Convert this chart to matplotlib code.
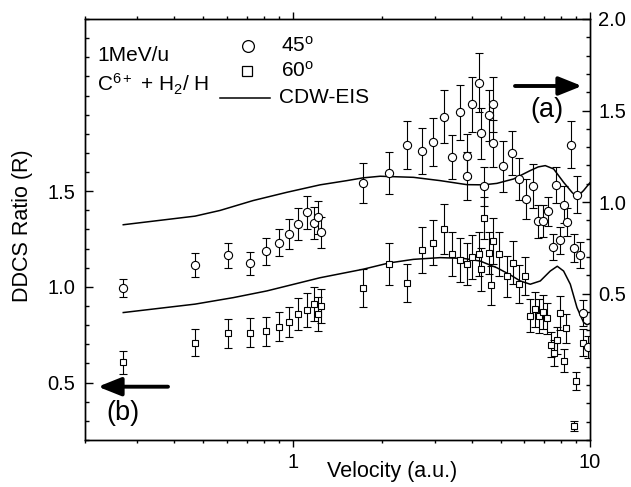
import matplotlib
matplotlib.use("Agg")
import matplotlib.pyplot as plt
from matplotlib.ticker import MultipleLocator, NullFormatter
from matplotlib.lines import Line2D

plt.rcParams['font.family'] = ['Liberation Sans', 'DejaVu Sans']
plt.rcParams['mathtext.fontset'] = 'custom'
plt.rcParams['mathtext.rm'] = 'Liberation Sans'
plt.rcParams['mathtext.it'] = 'Liberation Sans:italic'
plt.rcParams['mathtext.bf'] = 'Liberation Sans:bold'

# ---- data: 45 degree (right axis) ----
v45 = [0.269, 0.469, 0.607, 0.718, 0.811, 0.899, 0.974, 1.044, 1.120, 1.182, 1.214, 1.242,
       1.721, 2.105, 2.426, 2.718, 2.975, 3.215, 3.444, 3.650, 3.853, 3.853, 4.024, 4.229,
       4.311, 4.406, 4.563, 4.714, 4.714, 5.094, 5.455, 5.781, 6.101, 6.418, 6.671, 6.946,
       7.209, 7.506, 7.700, 7.955, 8.161, 8.385, 8.650, 8.855, 9.028, 9.240, 9.493, 9.831]
r45 = [0.530, 0.654, 0.708, 0.665, 0.730, 0.778, 0.823, 0.881, 0.943, 0.884, 0.917, 0.834,
       1.105, 1.158, 1.313, 1.280, 1.328, 1.466, 1.247, 1.490, 1.251, 1.141, 1.535, 1.653,
       1.375, 1.086, 1.474, 1.535, 1.320, 1.195, 1.269, 1.126, 1.015, 1.089, 0.896, 0.896,
       0.950, 0.754, 1.094, 0.791, 0.986, 0.892, 1.314, 0.749, 1.041, 0.712, 0.394, 0.209]
e45 = [0.05, 0.065, 0.07, 0.064, 0.073, 0.075, 0.082, 0.087, 0.092, 0.087, 0.089, 0.083,
       0.109, 0.115, 0.13, 0.127, 0.13, 0.145, 0.12, 0.15, 0.12, 0.13, 0.15, 0.16,
       0.14, 0.105, 0.14, 0.15, 0.13, 0.14, 0.12, 0.116, 0.11, 0.12, 0.09, 0.087,
       0.08, 0.073, 0.10, 0.075, 0.1, 0.077, 0.13, 0.077, 0.1, 0.07, 0.07, 0.06]

# ---- data: 60 degree (left axis) ----
v60 = [0.269, 0.469, 0.607, 0.718, 0.811, 0.899, 0.974, 1.044, 1.120, 1.182, 1.214, 1.242,
       1.721, 2.105, 2.426, 2.718, 2.975, 3.215, 3.444, 3.650, 3.853, 4.024, 4.229, 4.311,
       4.406, 4.563, 4.641, 4.714, 4.950, 5.255, 5.519, 5.781, 6.031, 6.260, 6.508, 6.734,
       6.930, 7.143, 7.391, 7.594, 7.760, 7.955, 8.150, 8.300, 8.855, 8.980, 9.500]
r60 = [0.606, 0.708, 0.757, 0.760, 0.769, 0.793, 0.816, 0.858, 0.879, 0.913, 0.858, 0.901,
       0.996, 1.120, 1.022, 1.195, 1.232, 1.301, 1.170, 1.142, 1.119, 1.156, 1.170, 1.092,
       1.359, 1.176, 1.008, 1.238, 1.170, 1.056, 1.127, 1.017, 1.056, 0.849, 0.883, 0.848,
       0.869, 0.836, 0.697, 0.654, 0.721, 0.864, 0.615, 0.783, 0.275, 0.509, 0.708]
e60 = [0.059, 0.071, 0.076, 0.075, 0.076, 0.078, 0.08, 0.084, 0.089, 0.089, 0.087, 0.089,
       0.099, 0.11, 0.10, 0.12, 0.12, 0.13, 0.115, 0.115, 0.11, 0.117, 0.115, 0.113,
       0.11, 0.11, 0.10, 0.12, 0.115, 0.107, 0.113, 0.10, 0.10, 0.087, 0.09, 0.087,
       0.087, 0.08, 0.065, 0.068, 0.07, 0.088, 0.06, 0.078, 0.026, 0.048, 0.07]

# ---- CDW-EIS theory curves ----
v_th45 = [0.269, 0.469, 0.569, 0.735, 0.954, 1.236, 1.520, 1.721, 1.968, 2.547, 3.133, 3.853,
          4.384, 4.862, 5.531, 6.295, 6.700, 7.071, 7.543, 8.150, 8.699, 9.040, 9.517, 10.0]
th45 = [0.876, 0.923, 0.954, 1.008, 1.053, 1.094, 1.117, 1.132, 1.141, 1.135, 1.117, 1.095,
        1.094, 1.102, 1.126, 1.172, 1.192, 1.199, 1.181, 1.108, 1.053, 1.027, 1.063, 1.106]
v_th60 = [0.269, 0.469, 0.631, 0.818, 1.058, 1.236, 1.721, 2.105, 2.547, 3.133, 3.753, 4.271,
          4.862, 5.391, 5.826, 6.295, 6.803, 7.351, 7.760, 8.150, 8.585, 9.040, 9.517, 9.770, 10.0]
th60 = [0.866, 0.910, 0.944, 0.979, 1.022, 1.048, 1.092, 1.125, 1.144, 1.153, 1.149, 1.135,
        1.100, 1.063, 1.031, 1.014, 1.031, 1.083, 1.108, 1.083, 1.014, 0.892, 0.814, 0.802, 0.809]

W, H = 631, 487
fig = plt.figure(figsize=(W / 100, H / 100), dpi=100)
L, R, T, B = 85, 590, 19, 440
ax1 = fig.add_axes([L / W, 1 - B / H, (R - L) / W, (B - T) / H])
ax1.set_xscale('log')
ax1.set_xlim(0.2, 10)
ax1.set_ylim(0.2, 2.4)
ax2 = ax1.twinx()
ax2.set_ylim(-0.3, 2.0)

ekw = dict(mfc='white', mec='black', ecolor='black', elinewidth=0.8,
           capsize=2.7, capthick=0.8, mew=0.8, linestyle='none')
ax1.errorbar(v60, r60, yerr=e60, marker='s', ms=5.0, **ekw)
ax1.plot(v_th60, th60, color='black', lw=1.1)
ax2.errorbar(v45, r45, yerr=e45, marker='o', ms=5.9, **ekw)
ax2.plot(v_th45, th45, color='black', lw=1.1)

for a in (ax1, ax2):
    for s in a.spines.values():
        s.set_linewidth(1.0)

ax1.set_xticks([1, 10], ['1', '10'])
ax1.set_xticks([0.2, 0.3, 0.4, 0.5, 0.6, 0.7, 0.8, 0.9, 2, 3, 4, 5, 6, 7, 8, 9], minor=True)
ax1.xaxis.set_minor_formatter(NullFormatter())
ax1.tick_params(axis='x', which='both', direction='out', top=True, bottom=True,
                labelsize=14.5, pad=4.5, width=1.0)
ax1.tick_params(axis='x', which='major', length=4.8)
ax1.tick_params(axis='x', which='minor', length=2.4)

ax1.set_yticks([0.5, 1.0, 1.5], ['0.5', '1.0', '1.5'])
ax1.yaxis.set_minor_locator(MultipleLocator(0.1))
ax1.tick_params(axis='y', which='both', direction='in', left=True, right=False,
                labelsize=14.5, pad=7, width=1.0)
ax1.tick_params(axis='y', which='major', length=5.8)
ax1.tick_params(axis='y', which='minor', length=2.9)

ax2.set_yticks([0.5, 1.0, 1.5, 2.0], ['0.5', '1.0', '1.5', '2.0'])
ax2.yaxis.set_minor_locator(MultipleLocator(0.1))
ax2.tick_params(axis='y', which='both', direction='in', right=True, left=False,
                labelsize=14.5, pad=5.8, width=1.0)
ax2.tick_params(axis='y', which='major', length=5.8)
ax2.tick_params(axis='y', which='minor', length=2.9)


def fx(px):
    return px / W


def fy(py):
    return 1 - py / H


FS = 15
fig.text(fx(392.5), fy(477), 'Velocity (a.u.)', fontsize=15.5, ha='center', va='baseline')
fig.text(fx(23), fy(226), 'DDCS Ratio (R)', fontsize=15.5, ha='center', va='center',
         rotation=90)

fig.text(fx(97), fy(55.5), '1MeV/u', fontsize=FS, ha='left', va='center')
fig.text(fx(97), fy(91.5), r'C$^{\mathrm{6+}}$ + H$_{\mathrm{2}}$/ H', fontsize=FS,
         ha='left', va='baseline')

# legend
fig.add_artist(Line2D([fx(248)], [fy(45.7)], marker='o', ms=8.5, mfc='white', mec='black',
                      mew=0.9, transform=fig.transFigure))
fig.add_artist(Line2D([fx(247)], [fy(71)], marker='s', ms=7.8, mfc='white', mec='black',
                      mew=0.9, transform=fig.transFigure))
fig.add_artist(Line2D([fx(220), fx(270)], [fy(97.7), fy(97.7)], color='black', lw=1.1,
                      transform=fig.transFigure))
fig.text(fx(281), fy(45.7), r'45$^{\mathrm{o}}$', fontsize=FS, ha='left', va='center')
fig.text(fx(281), fy(71), r'60$^{\mathrm{o}}$', fontsize=FS, ha='left', va='center')
fig.text(fx(279), fy(97.7), 'CDW-EIS', fontsize=FS, ha='left', va='center')

fig.text(fx(546.5), fy(110), '(a)', fontsize=19.5, ha='center', va='center')
fig.text(fx(122.5), fy(413), '(b)', fontsize=19.5, ha='center', va='center')

akw = dict(arrowstyle='-|>,head_length=1.0,head_width=0.4', lw=2.8, color='black',
           shrinkA=0, shrinkB=0, mutation_scale=14)
ax1.annotate('', xy=(fx(582), fy(86)), xytext=(fx(515), fy(86)),
             xycoords='figure fraction', textcoords='figure fraction', arrowprops=akw)
ax1.annotate('', xy=(fx(98), fy(386.7)), xytext=(fx(168), fy(386.7)),
             xycoords='figure fraction', textcoords='figure fraction', arrowprops=akw)

fig.savefig('out.png', dpi=100)
